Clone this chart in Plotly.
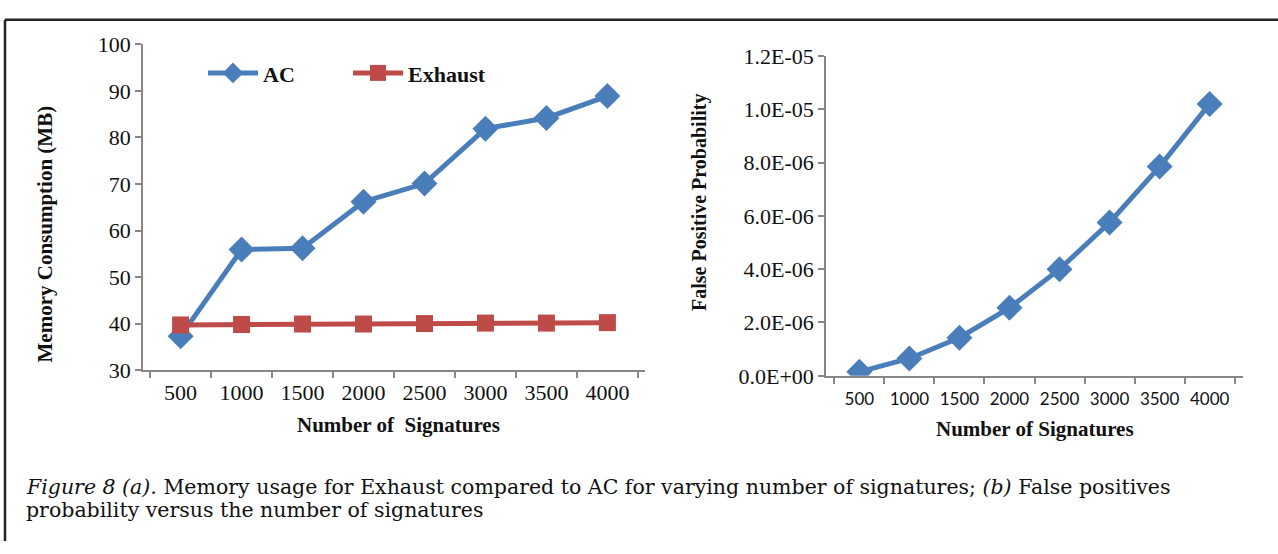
import plotly.graph_objects as go

signatures = ["500", "1000", "1500", "2000", "2500", "3000", "3500", "4000"]
ac_memory = [37.3, 55.9, 56.2, 66.2, 70.1, 81.9, 84.2, 88.9]
exhaust_memory = [39.7, 39.8, 39.9, 39.9, 40.0, 40.1, 40.1, 40.2]
false_positive = [1.5e-7, 6.5e-7, 1.43e-6, 2.55e-6, 4.0e-6, 5.75e-6, 7.85e-6, 1.02e-5]
fp_ticks = [0, 2e-6, 4e-6, 6e-6, 8e-6, 1.0e-5, 1.2e-5]
fp_ticktext = ["0.0E+00", "2.0E-06", "4.0E-06", "6.0E-06", "8.0E-06", "1.0E-05", "1.2E-05"]

W, H = 1278, 554
BLUE = "#4A7EBB"
RED = "#BE4B48"
AXIS = "#878787"
SERIF = "Liberation Serif, Times New Roman, serif"
CAPTION = "DejaVu Serif, serif"

def px(x):
    return x / W

def py(y):
    return 1 - y / H

fig = go.Figure()
fig.add_trace(go.Scatter(x=signatures, y=ac_memory, name="AC", mode="lines+markers",
                         line=dict(color=BLUE, width=5),
                         marker=dict(symbol="diamond", size=20, color=BLUE),
                         xaxis="x", yaxis="y"))
fig.add_trace(go.Scatter(x=signatures, y=exhaust_memory, name="Exhaust", mode="lines+markers",
                         line=dict(color=RED, width=5),
                         marker=dict(symbol="square", size=17, color=RED),
                         xaxis="x", yaxis="y"))
fig.add_trace(go.Scatter(x=signatures, y=false_positive, name="FP", mode="lines+markers",
                         showlegend=False,
                         line=dict(color=BLUE, width=5),
                         marker=dict(symbol="diamond", size=20, color=BLUE),
                         xaxis="x2", yaxis="y2"))

common_axis = dict(showline=True, linecolor=AXIS, linewidth=1.5, ticks="outside",
                   tickcolor=AXIS, ticklen=6, tickwidth=1.5, showgrid=False, zeroline=False)

fig.update_layout(
    width=W, height=H,
    margin=dict(l=0, r=0, t=0, b=0),
    paper_bgcolor="white", plot_bgcolor="white",
    xaxis=dict(domain=[px(143), px(645)], anchor="y", type="category",
               tickson="boundaries", ticklabelstandoff=2,
               tickfont=dict(family=SERIF, size=22, color="#111"),
               **common_axis),
    yaxis=dict(domain=[py(375), py(34)], anchor="x", range=[30, 100], dtick=10,
               tickfont=dict(family=SERIF, size=22, color="#111"), **common_axis),
    xaxis2=dict(domain=[px(826), px(1243)], anchor="y2", type="category",
                tickson="boundaries", ticklabelstandoff=7,
                tickfont=dict(family="Lato, Carlito, sans-serif", size=17, color="#111"),
                **common_axis),
    yaxis2=dict(domain=[py(381), py(46)], anchor="x2", range=[0, 1.2e-5],
                tickvals=fp_ticks, ticktext=fp_ticktext,
                tickfont=dict(family=SERIF, size=22, color="#111"), **common_axis),
    legend=dict(orientation="h", x=px(203), y=py(64), xanchor="left", yanchor="middle",
                font=dict(family=SERIF, size=22, color="#111", weight="bold"),
                bgcolor="rgba(0,0,0,0)", itemwidth=50, entrywidthmode="pixels", entrywidth=80),
    showlegend=True,
)

annotations = [
    dict(text="<b>Memory Consumption (MB)</b>", x=px(45), y=py(233), textangle=-90,
         font=dict(family=SERIF, size=21, color="#111")),
    dict(text="<b>Number of  Signatures</b>", x=px(398), y=py(433),
         font=dict(family=SERIF, size=21, color="#111")),
    dict(text="<b>False Positive Probability</b>", x=px(700), y=py(200), textangle=-90,
         font=dict(family=SERIF, size=20, color="#111")),
    dict(text="<b>Number of Signatures</b>", x=px(1035), y=py(437),
         font=dict(family=SERIF, size=21, color="#111")),
    dict(text="<i>Figure 8 (a).</i> Memory usage for Exhaust compared to AC for varying number of signatures; <i>(b)</i> False positives",
         x=px(24), y=py(497), xanchor="left",
         font=dict(family=CAPTION, size=20.5, color="#111")),
    dict(text="probability versus the number of signatures",
         x=px(24), y=py(522), xanchor="left",
         font=dict(family=CAPTION, size=20.5, color="#111")),
]
for a in annotations:
    a.update(xref="paper", yref="paper", showarrow=False)
    a.setdefault("xanchor", "center")
    a.setdefault("yanchor", "middle")
fig.update_layout(annotations=annotations)

fig.add_shape(type="line", xref="paper", yref="paper", x0=px(5), x1=1, y0=py(8), y1=py(8),
              line=dict(color="#222", width=2.5))
fig.add_shape(type="line", xref="paper", yref="paper", x0=px(5), x1=px(5), y0=py(8), y1=0,
              line=dict(color="#222", width=2.5))

post = ("var gd=document.getElementById('{plot_id}');"
        "gd.style.position='fixed';gd.style.top='0px';gd.style.left='0px';"
        "document.body.style.margin='0';document.documentElement.style.overflow='hidden';"
        "document.body.style.overflow='hidden';")
fig.write_html("out.html", config={"displayModeBar": False}, post_script=post)
